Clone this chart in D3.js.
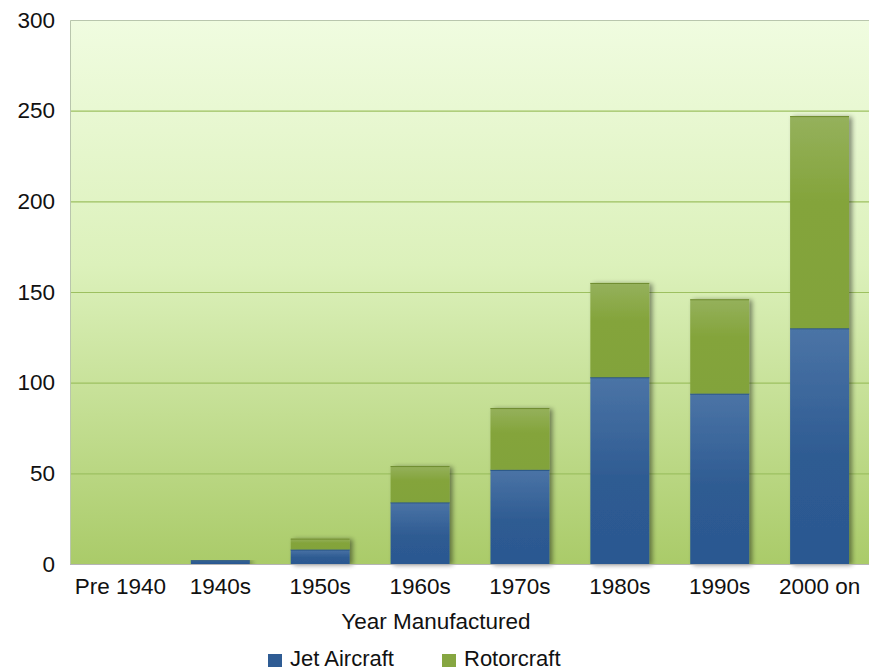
<!DOCTYPE html>
<html>
<head>
<meta charset="utf-8">
<script src="https://cdn.jsdelivr.net/npm/d3@7"></script>
<style>
  body { margin: 0; background: #fff; }
  text { font-family: "Liberation Sans", Arial, sans-serif; fill: #111; }
</style>
</head>
<body>
<svg width="869" height="670"></svg>
<script>
var WIDTH = 869;
var HEIGHT = 670;

// data
var categories = ['Pre 1940', '1940s', '1950s', '1960s', '1970s', '1980s', '1990s', '2000 on'];
var jetAircraft = [0, 2, 8, 34, 52, 103, 94, 130];
var rotorcraft = [0, 0, 6, 20, 34, 52, 52, 117];
var yTicks = [0, 50, 100, 150, 200, 250, 300];
var seriesNames = ['Jet Aircraft', 'Rotorcraft'];

var margin = { top: 20, right: 0, bottom: 106, left: 70 };
var innerW = WIDTH - margin.left - margin.right;
var innerH = HEIGHT - margin.top - margin.bottom;
var FONT = 22.5;

var svg = d3.select('svg');
var defs = svg.append('defs');

// plot background gradient
var bg = defs.append('linearGradient').attr('id', 'bg').attr('x1', 0).attr('y1', 0).attr('x2', 0).attr('y2', 1);
bg.append('stop').attr('offset', '0%').attr('stop-color', '#f0fce0');
bg.append('stop').attr('offset', '45%').attr('stop-color', '#dcf1bb');
bg.append('stop').attr('offset', '100%').attr('stop-color', '#aacb69');

var gBlue = defs.append('linearGradient').attr('id', 'gBlue').attr('x1', 0).attr('y1', 0).attr('x2', 0).attr('y2', 1);
gBlue.append('stop').attr('offset', '0%').attr('stop-color', '#4b74a6');
gBlue.append('stop').attr('offset', '55%').attr('stop-color', '#2e5b92');
gBlue.append('stop').attr('offset', '100%').attr('stop-color', '#2b5891');

var gGreen = defs.append('linearGradient').attr('id', 'gGreen').attr('x1', 0).attr('y1', 0).attr('x2', 0).attr('y2', 1);
gGreen.append('stop').attr('offset', '0%').attr('stop-color', '#95b15c');
gGreen.append('stop').attr('offset', '40%').attr('stop-color', '#84a43b');
gGreen.append('stop').attr('offset', '100%').attr('stop-color', '#82a33a');

var shadow = defs.append('filter').attr('id', 'shadow').attr('x', '-20%').attr('y', '-20%').attr('width', '150%').attr('height', '140%');
shadow.append('feGaussianBlur').attr('in', 'SourceAlpha').attr('stdDeviation', 2.5);
shadow.append('feOffset').attr('dx', 3).attr('dy', 1).attr('result', 'b');
shadow.append('feComponentTransfer').append('feFuncA').attr('type', 'linear').attr('slope', 0.45);
var merge = shadow.append('feMerge');
merge.append('feMergeNode');
merge.append('feMergeNode').attr('in', 'SourceGraphic');

var g = svg.append('g').attr('transform', 'translate(' + margin.left + ',' + margin.top + ')');

var x = d3.scaleBand().domain(categories).range([1, innerW]).paddingInner(0.41).paddingOuter(0.2);
var y = d3.scaleLinear().domain([0, 300]).range([innerH, 0]);

g.append('rect').attr('width', innerW).attr('height', innerH).attr('fill', 'url(#bg)');

// gridlines
g.selectAll('.grid').data(yTicks.filter(function(d) { return d > 0 && d < 300; }))
  .enter().append('line')
  .attr('x1', 0).attr('x2', innerW)
  .attr('y1', function(d) { return y(d) + 0.5; }).attr('y2', function(d) { return y(d) + 0.5; })
  .attr('stroke', '#9dc060').attr('stroke-width', 1.2);

// frame: left and top
g.append('path').attr('d', 'M0.5,' + innerH + 'V0.5H' + innerW)
  .attr('fill', 'none').attr('stroke', '#b9c6ad').attr('stroke-width', 1);

// stacked bars
var rows = categories.map(function(c, i) { return { cat: c, jet: jetAircraft[i], rotor: rotorcraft[i] }; });
var stack = d3.stack().keys(['jet', 'rotor'])(rows);
var fills = ['url(#gBlue)', 'url(#gGreen)'];
var edges = ['#24507f', '#6f8c30'];

var bars = g.append('g');
rows.forEach(function(r, i) {
  var total = r.jet + r.rotor;
  if (total <= 0) return;
  var bg2 = bars.append('g').attr('filter', 'url(#shadow)');
  stack.forEach(function(layer, k) {
    var d = layer[i];
    if (d[1] - d[0] <= 0) return;
    bg2.append('rect')
      .attr('x', x(r.cat))
      .attr('width', x.bandwidth())
      .attr('y', y(d[1]))
      .attr('height', y(d[0]) - y(d[1]))
      .attr('fill', fills[k]);
    bg2.append('line')
      .attr('x1', x(r.cat)).attr('x2', x(r.cat) + x.bandwidth())
      .attr('y1', y(d[1]) + 0.5).attr('y2', y(d[1]) + 0.5)
      .attr('stroke', edges[k]).attr('stroke-width', 1);
  });
});

// bottom axis line
g.append('line').attr('x1', 0).attr('x2', innerW).attr('y1', innerH + 0.5).attr('y2', innerH + 0.5)
  .attr('stroke', '#b5b5b5').attr('stroke-width', 1.2);

// y axis labels
var yAxis = g.append('g').call(d3.axisLeft(y).tickValues(yTicks).tickSize(0).tickPadding(15));
yAxis.select('.domain').remove();
yAxis.selectAll('text').attr('font-size', FONT).attr('fill', '#111').attr('font-family', '"Liberation Sans", Arial, sans-serif');

// x axis labels
var xAxis = g.append('g').attr('transform', 'translate(0,' + innerH + ')')
  .call(d3.axisBottom(x).tickSize(0).tickPadding(14));
xAxis.select('.domain').remove();
xAxis.selectAll('text').attr('font-size', FONT).attr('fill', '#111').attr('font-family', '"Liberation Sans", Arial, sans-serif');

// axis title
svg.append('text').attr('x', 436).attr('y', 629)
  .attr('text-anchor', 'middle').attr('font-size', FONT).text('Year Manufactured');

// legend
var legendColors = ['#2f5c94', '#86a641'];
var legendX = [268, 442];
seriesNames.forEach(function(name, i) {
  svg.append('rect').attr('x', legendX[i]).attr('y', 654).attr('width', 14).attr('height', 13).attr('fill', legendColors[i]);
  svg.append('text').attr('x', legendX[i] + 22).attr('y', 666).attr('font-size', 22).text(name);
});
</script>
</body>
</html>
